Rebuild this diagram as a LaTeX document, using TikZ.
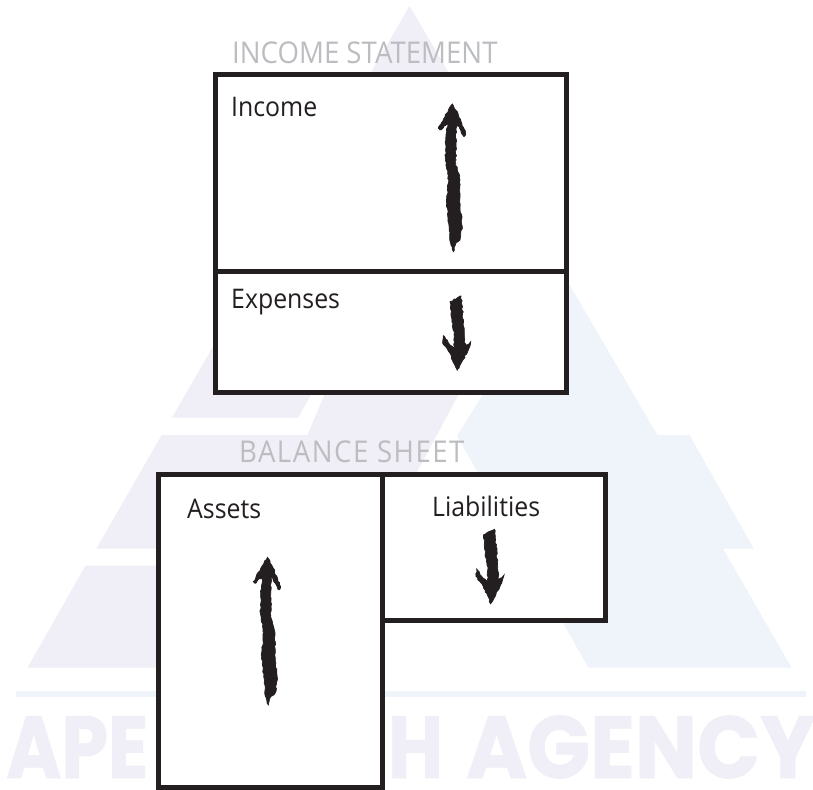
\documentclass[tikz,border=0pt]{standalone}
\usepackage{fontspec}
\setmainfont{Open Sans}
\newfontfamily\labelfont[FakeStretch=0.92]{Open Sans}
\newfontfamily\incomefont[FakeStretch=0.92]{Open Sans}
\newfontfamily\balancefont[FakeStretch=0.92,LetterSpace=5]{Open Sans}
\newfontfamily\markfont[FakeStretch=0.85,FakeBold=1]{Poppins}
\newfontfamily\agencyfont[FakeStretch=0.94,FakeBold=1]{Poppins}
\usetikzlibrary{decorations.pathmorphing}
\definecolor{ink}{HTML}{231F20}
\definecolor{mauve}{HTML}{F0EEF6}
\definecolor{pale}{HTML}{EFF4FB}
\definecolor{heading}{HTML}{BCBDC0}
\newcommand{\ArrowUpPath}{(157,72) -- (175,105) -- (197,160) -- (192,170) -- (170,130) -- (168,150) -- (168,200) -- (167,250) -- (180,300) -- (180,370) -- (187,440) -- (180,480) -- (167,490) -- (160,515) -- (152,490) -- (146,430) -- (140,370) -- (146,300) -- (136,240) -- (138,170) -- (143,130) -- (120,150) -- (115,145) -- (140,100) -- cycle}
\newcommand{\ArrowDownPath}{(183,648) -- (188,700) -- (193,760) -- (195,800) -- (212,785) -- (205,810) -- (172,872) -- (150,820) -- (128,790) -- (130,767) -- (150,795) -- (163,805) -- (163,770) -- (156,720) -- (150,665) -- cycle}
\tikzset{
  panel/.style={draw=ink,line width=5pt,fill=white,inner sep=0pt,outer sep=0pt},
  label/.style={anchor=base west,inner sep=0pt,text=ink,font=\labelfont\fontsize{27}{27}\selectfont},
  headline/.style={anchor=base west,inner sep=0pt,text=heading,font=\incomefont\fontsize{30}{30}\selectfont},
  headlinewide/.style={anchor=base west,inner sep=0pt,text=heading,font=\balancefont\fontsize{30}{30}\selectfont},
  wmark/.style={anchor=base west,inner sep=0pt,text=mauve,font=\markfont\bfseries\fontsize{88}{88}\selectfont},
  wmarkwide/.style={anchor=base west,inner sep=0pt,text=mauve,font=\agencyfont\bfseries\fontsize{88}{88}\selectfont},
  scribble/.style={draw=ink,line width=.7pt,fill=ink,decorate,decoration={random steps,segment length=2.2pt,amplitude=.7pt}}
}
\begin{document}
\begin{tikzpicture}[x=1pt,y=-1pt]
\pgfmathsetseed{7}
\useasboundingbox (0,0) rectangle (813,789);
\fill[white] (0,0) rectangle (813,789);
% watermark
\fill[mauve] (409.5,6) -- (172,417.7) -- (298,417.7) -- (325,370) -- (450,75) -- cycle;
\fill[mauve] (96.4,548.7) -- (161.7,435) -- (307.4,435) -- (326.6,390) -- (335,375) -- (470,375) -- (461,390) -- (418,470) -- (400,500) -- (383,548.7) -- cycle;
\fill[mauve] (27.5,667.7) -- (85.5,565.7) -- (200,565.7) -- (200,667.7) -- cycle;
\fill[pale] (558.5,266) -- (657.3,435) -- (689.5,435) -- (753.8,548.7) -- (723,548.7) -- (791.6,667.7) -- (588.4,667.7) -- (457,436) -- (479.5,400) -- cycle;
\fill[pale] (15.5,690.7) rectangle (806,696.7);
\node[wmark] (markleft) at (6,778) {APE};
\node[wmark] (markh) at (388,778) {H};
\node[wmarkwide] (markagency) at (466,778) {AGENCY};
% headings
\node[headline] (incomehead) at (232,63.5) {INCOME STATEMENT};
\node[headlinewide] (balancehead) at (239,462.5) {BALANCE SHEET};
% panels
\node[panel,minimum width=351pt,minimum height=196.5pt] (incomebox) at (390.5,173.25) {};
\node[panel,minimum width=351pt,minimum height=121pt] (expensebox) at (390.5,332) {};
\node[panel,minimum width=223.5pt,minimum height=312.5pt] (assetbox) at (270.25,630.75) {};
\node[panel,minimum width=223pt,minimum height=145.5pt] (liabbox) at (493.5,547.25) {};
% labels
\node[label] (income) at (231,117) {Income};
\node[label] (expenses) at (231,308) {Expenses};
\node[label] (assets) at (187,518) {Assets};
\node[label] (liabilities) at (432,516.7) {Liabilities};
% hand-drawn arrows
\begin{scope}[shift={(400,80)},scale=1/3]
  \filldraw[scribble] \ArrowUpPath;
  \filldraw[scribble] \ArrowDownPath;
\end{scope}
\begin{scope}[shift={(215,533.3)},scale=1/3]
  \filldraw[scribble] \ArrowUpPath;
\end{scope}
\begin{scope}[shift={(433.4,313.3)},scale=1/3]
  \filldraw[scribble] \ArrowDownPath;
\end{scope}
\end{tikzpicture}
\end{document}
